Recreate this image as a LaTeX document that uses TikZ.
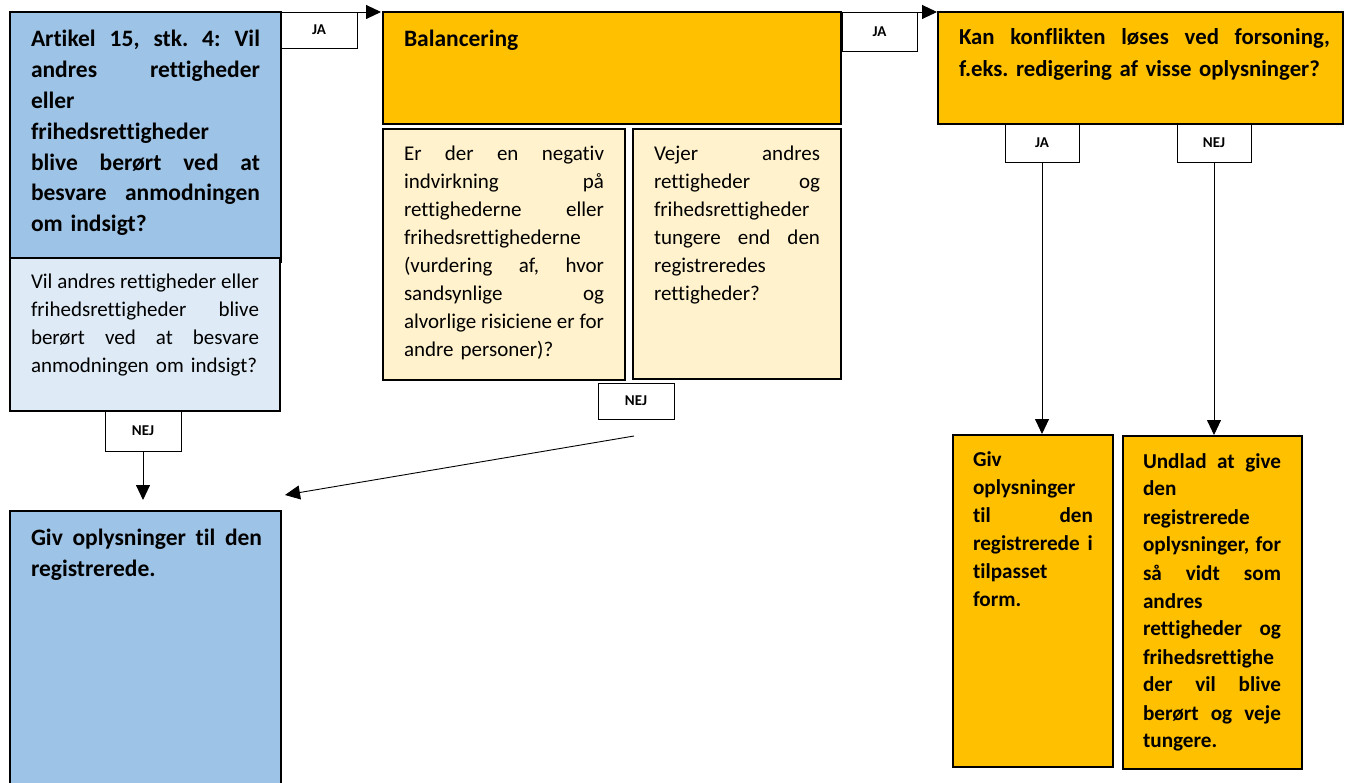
\documentclass[tikz,border=0pt]{standalone}
\usepackage{fontspec}
\setmainfont{Carlito}[Ligatures={NoCommon}]
\usetikzlibrary{arrows.meta,calc}
\definecolor{bluebox}{HTML}{9DC3E6}
\definecolor{lightblue}{HTML}{DEEBF7}
\definecolor{orangebox}{HTML}{FFC000}
\definecolor{lightorange}{HTML}{FFF2CC}
\newlength{\jw}
\newcommand{\jl}[1]{\leavevmode\hbox to\jw{\spaceskip=\fontdimen2\font plus 1fil minus 0.25\fontdimen2\font\xspaceskip=\spaceskip #1}\\}
\newcommand{\fl}[1]{\mbox{#1}\\}
\frenchspacing
\begin{document}
\begin{tikzpicture}[x=1pt,y=-1pt,
  box/.style={draw, line width=1.5pt, inner sep=0pt, outer sep=0pt, anchor=north west},
  lab/.style={draw, line width=0.8pt, fill=white, inner sep=0pt, outer sep=0pt, anchor=north west,
    font=\fontsize{15}{17}\selectfont\bfseries},
  txt/.style={inner sep=0pt, outer sep=0pt, anchor=north west, align=left},
  bt/.style={font=\fontsize{23.5}{30.8}\selectfont\bfseries},
  bs/.style={font=\fontsize{21.2}{28}\selectfont\bfseries},
  bk/.style={font=\fontsize{22.8}{32}\selectfont\bfseries},
  rt/.style={font=\fontsize{21}{28}\selectfont},
  arr/.style={line width=0.9pt, -{Triangle[length=15pt,width=14pt]}}
]
\useasboundingbox (0,0) rectangle (1360,783);

% boxes
\node[box, fill=bluebox, minimum width=271pt, minimum height=250pt] (q1) at (10,12) {};
\node[box, fill=lightblue, minimum width=270pt, minimum height=153pt] (q1b) at (10,258) {};
\node[box, fill=orangebox, minimum width=458pt, minimum height=112pt] (bal) at (383,12) {};
\node[box, fill=lightorange, minimum width=242pt, minimum height=251pt] (bl) at (383,129) {};
\node[box, fill=lightorange, minimum width=208pt, minimum height=250pt] (br) at (633,129) {};
\node[box, fill=orangebox, minimum width=405pt, minimum height=112pt] (kan) at (938,12) {};
\node[box, fill=orangebox, minimum width=160pt, minimum height=332pt] (giv) at (953,435) {};
\node[box, fill=orangebox, minimum width=179pt, minimum height=333pt] (und) at (1123,436) {};
\node[box, fill=bluebox, minimum width=271pt, minimum height=290pt] (bot) at (10,511) {};

% labels
\node[lab, minimum width=76pt, minimum height=36pt] (ja1) at (281,12) {JA};
\node[lab, minimum width=75pt, minimum height=39pt] (ja2) at (842,12) {JA};
\node[lab, minimum width=74pt, minimum height=38pt] (ja3) at (1005,124) {JA};
\node[lab, minimum width=74pt, minimum height=38pt] (nej3) at (1177,124) {NEJ};
\node[lab, minimum width=76pt, minimum height=40pt] (nej1) at (105,411) {NEJ};
\node[lab, minimum width=76pt, minimum height=36pt] (nej2) at (598,383) {NEJ};

% texts
\node[txt, bt, text width=229pt] (t1) at (31,25.4) {\setlength{\jw}{229pt}\strut\jl{Artikel 15, stk. 4: Vil}\jl{andres rettigheder}\fl{eller}\fl{frihedsrettigheder}\jl{blive berørt ved at}\jl{besvare anmodningen}\mbox{om indsigt?}};
\node[txt, rt, text width=228pt] (t2) at (31,269.4) {\setlength{\jw}{228pt}\strut\jl{Vil andres rettigheder eller}\jl{frihedsrettigheder blive}\jl{berørt ved at besvare}\mbox{anmodningen om indsigt?}};
\node[txt, bt] (t3) at (404,25.4) {\strut Balancering};
\node[txt, rt, text width=200pt] (t4) at (404,141.4) {\setlength{\jw}{200pt}\strut\jl{Er der en negativ}\jl{indvirkning på}\jl{rettighederne eller}\fl{frihedsrettighederne}\jl{(vurdering af, hvor}\jl{sandsynlige og}\jl{alvorlige risiciene er for}\mbox{andre personer)?}};
\node[txt, rt, text width=166pt] (t5) at (654,141.4) {\setlength{\jw}{166pt}\strut\jl{Vejer andres}\jl{rettigheder og}\fl{frihedsrettigheder}\jl{tungere end den}\fl{registreredes}\mbox{rettigheder?}};
\node[txt, bk, text width=371pt] (t6) at (959,22.6) {\setlength{\jw}{371pt}\strut\jl{Kan konflikten løses ved forsoning,}\mbox{f.eks. redigering af visse oplysninger?}};
\node[txt, bs, text width=120pt] (t7) at (973,446.4) {\setlength{\jw}{120pt}\strut\fl{Giv}\fl{oplysninger}\jl{til den}\jl{registrerede i}\fl{tilpasset}\mbox{form.}};
\node[txt, bs, text width=138pt] (t8) at (1143,448.4) {\setlength{\jw}{138pt}\strut\jl{Undlad at give}\fl{den}\fl{registrerede}\jl{oplysninger, for}\jl{så vidt som}\fl{andres}\jl{rettigheder og}\fl{frihedsrettighe}\jl{der vil blive}\jl{berørt og veje}\mbox{tungere.}};
\node[txt, bt, text width=231pt] (t9) at (31,524.4) {\setlength{\jw}{231pt}\strut\jl{Giv oplysninger til den}\mbox{registrerede.}};

% connectors
\draw[arr] (ja1.north east) -- ($(bal.north west)+(-2,0)$);
\draw[arr] (ja2.north east) -- ($(kan.north west)+(-1,0)$);
\draw[arr] (ja3.south) -- ($(ja3.south |- giv.north)+(0,-1)$);
\draw[arr] (nej3.south) -- ($(nej3.south |- und.north)+(0,-1)$);
\draw[arr] (nej1.south) -- ($(nej1.south |- bot.north)+(0,-11)$);
\coordinate (d1) at (634,436);
\coordinate (d2) at (285,495);
\draw[arr] (d1) -- (d2);
\end{tikzpicture}
\end{document}
